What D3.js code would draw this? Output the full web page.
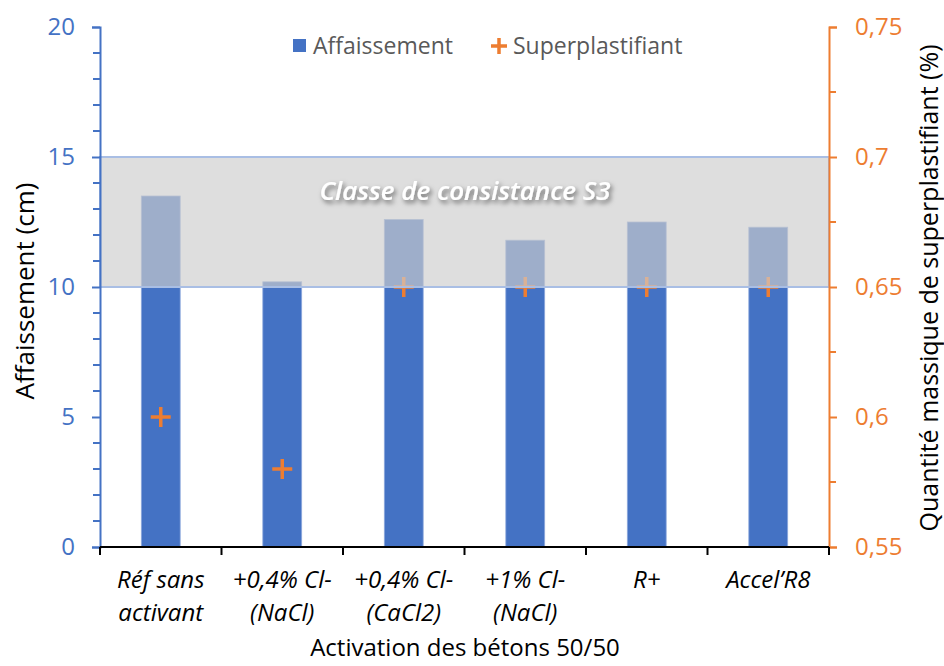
<!DOCTYPE html>
<html>
<head>
<meta charset="utf-8">
<script src="https://cdn.jsdelivr.net/npm/d3@7/dist/d3.min.js"></script>
<style>
  body { margin: 0; background: #fff; }
  svg text { font-family: "Open Sans", "Noto Sans", "DejaVu Sans", sans-serif; }
</style>
</head>
<body>
<svg id="chart" width="944" height="666"></svg>
<script>
// Concrete activation: slump (bars, left axis) and superplasticizer dosage (crosses, right axis)
const categories = [
  ["Réf sans", "activant"],
  ["+0,4% Cl-", "(NaCl)"],
  ["+0,4% Cl-", "(CaCl2)"],
  ["+1% Cl-", "(NaCl)"],
  ["R+"],
  ["Accel’R8"]
];
const affaissement = [13.5, 10.2, 12.6, 11.8, 12.5, 12.3];
const superplastifiant = [0.60, 0.58, 0.65, 0.65, 0.65, 0.65];
const leftTicks = [0, 5, 10, 15, 20];
const rightTicks = [0.55, 0.6, 0.65, 0.7, 0.75];
const rightTickLabels = ["0,55", "0,6", "0,65", "0,7", "0,75"];
const bandRange = [10, 15];
const bandLabel = "Classe de consistance S3";

const BLUE = "#4472C4", ORANGE = "#ED7D31";
const svg = d3.select("#chart");
const plotL = 100, plotR = 829, plotT = 27, plotB = 547;

const x = d3.scaleBand().domain(d3.range(categories.length)).range([plotL, plotR]).paddingInner(0.68).paddingOuter(0.34);
const y = d3.scaleLinear().domain([0, 20]).range([plotB, plotT]);
const y2 = d3.scaleLinear().domain([0.55, 0.75]).range([plotB, plotT]);

const defs = svg.append("defs");
const f = defs.append("filter").attr("id", "shadow").attr("x", "-20%").attr("y", "-50%").attr("width", "140%").attr("height", "200%");
f.append("feDropShadow").attr("dx", 2).attr("dy", 3).attr("stdDeviation", 2.5).attr("flood-color", "#000").attr("flood-opacity", 0.55);

// Bars
svg.append("g").selectAll("rect").data(affaissement).join("rect")
  .attr("x", (d, i) => x(i))
  .attr("y", d => y(d))
  .attr("width", x.bandwidth())
  .attr("height", d => y(0) - y(d))
  .attr("fill", BLUE)
  .attr("stroke", "#8FAADC").attr("stroke-width", 0.8);

// Crosses
const cross = svg.append("g");
superplastifiant.forEach((d, i) => {
  const cx = x(i) + x.bandwidth() / 2, cy = y2(d);
  cross.append("path")
    .attr("d", `M${cx - 10},${cy}H${cx + 10}M${cx},${cy - 10}V${cy + 10}`)
    .attr("stroke", ORANGE).attr("stroke-width", 3.5).attr("fill", "none");
});

// Consistency class band (translucent, drawn over marks)
svg.append("rect")
  .attr("x", plotL).attr("y", y(bandRange[1]))
  .attr("width", plotR - plotL).attr("height", y(bandRange[0]) - y(bandRange[1]))
  .attr("fill", "#CDCDCD").attr("fill-opacity", 0.66)
  .attr("stroke", "#A9BEE4").attr("stroke-width", 2);

svg.append("text")
  .attr("x", 465).attr("y", 200)
  .attr("text-anchor", "middle")
  .attr("font-size", 26).attr("font-style", "italic").attr("font-weight", 600)
  .attr("fill", "#fff").attr("filter", "url(#shadow)")
  .text(bandLabel);

// Left axis
const yAxis = svg.append("g").attr("transform", `translate(${plotL},0)`)
  .call(d3.axisLeft(y).tickValues(leftTicks).tickSize(8).tickPadding(17).tickFormat(d3.format("d")));
yAxis.select(".domain").attr("stroke", BLUE).attr("stroke-width", 2);
yAxis.selectAll(".tick line").attr("stroke", BLUE).attr("stroke-width", 2);
yAxis.selectAll("text").attr("fill", BLUE).attr("font-size", 24);
svg.append("g").attr("transform", `translate(${plotL},0)`)
  .selectAll("line").data(d3.range(0, 21, 1).filter(v => v % 5 !== 0)).join("line")
  .attr("x1", -7).attr("x2", 0).attr("y1", d => y(d)).attr("y2", d => y(d))
  .attr("stroke", BLUE).attr("stroke-width", 2);

// Right axis
const y2Axis = svg.append("g").attr("transform", `translate(${plotR},0)`)
  .call(d3.axisRight(y2).tickValues(rightTicks).tickSize(8).tickPadding(18).tickFormat((d, i) => rightTickLabels[i]));
y2Axis.select(".domain").attr("stroke", ORANGE).attr("stroke-width", 2);
y2Axis.selectAll(".tick line").attr("stroke", ORANGE).attr("stroke-width", 2);
y2Axis.selectAll("text").attr("fill", ORANGE).attr("font-size", 24);
svg.append("g").attr("transform", `translate(${plotR},0)`)
  .selectAll("line").data([0.575, 0.625, 0.675, 0.725]).join("line")
  .attr("x1", 0).attr("x2", 7).attr("y1", d => y2(d)).attr("y2", d => y2(d))
  .attr("stroke", ORANGE).attr("stroke-width", 2);

// X axis
const xa = svg.append("g");
xa.append("line").attr("x1", plotL).attr("x2", plotR).attr("y1", plotB).attr("y2", plotB)
  .attr("stroke", "#000").attr("stroke-width", 2);
const bounds = d3.range(categories.length + 1).map(i => plotL + i * x.step());
xa.selectAll("line.t").data(bounds).join("line").attr("class", "t")
  .attr("x1", d => d).attr("x2", d => d).attr("y1", plotB).attr("y2", plotB + 8)
  .attr("stroke", "#000").attr("stroke-width", 2);
categories.forEach((lines, i) => {
  const t = xa.append("text")
    .attr("x", x(i) + x.bandwidth() / 2).attr("y", 588)
    .attr("text-anchor", "middle").attr("font-size", 24).attr("font-style", "italic").attr("fill", "#000");
  lines.forEach((l, j) => t.append("tspan").attr("x", x(i) + x.bandwidth() / 2).attr("dy", j ? 33 : 0).text(l));
});

// Axis titles
svg.append("text").attr("x", 465).attr("y", 656).attr("text-anchor", "middle")
  .attr("font-size", 24).attr("fill", "#000").text("Activation des bétons 50/50");
svg.append("text").attr("transform", "translate(34,291) rotate(-90)").attr("text-anchor", "middle")
  .attr("font-size", 26).attr("fill", "#000").text("Affaissement (cm)");
svg.append("text").attr("transform", "translate(938,288) rotate(-90)").attr("text-anchor", "middle")
  .attr("font-size", 25).attr("fill", "#000").text("Quantité massique de superplastifiant (%)");

// Legend
const lg = svg.append("g");
lg.append("rect").attr("x", 293).attr("y", 39).attr("width", 13).attr("height", 13).attr("fill", BLUE);
lg.append("text").attr("x", 313).attr("y", 54).attr("font-size", 23).attr("fill", "#595959").text("Affaissement");
lg.append("path").attr("d", "M491,46H507M499,38V54").attr("stroke", ORANGE).attr("stroke-width", 3.5);
lg.append("text").attr("x", 513).attr("y", 54).attr("font-size", 23).attr("fill", "#595959").text("Superplastifiant");
</script>
</body>
</html>
